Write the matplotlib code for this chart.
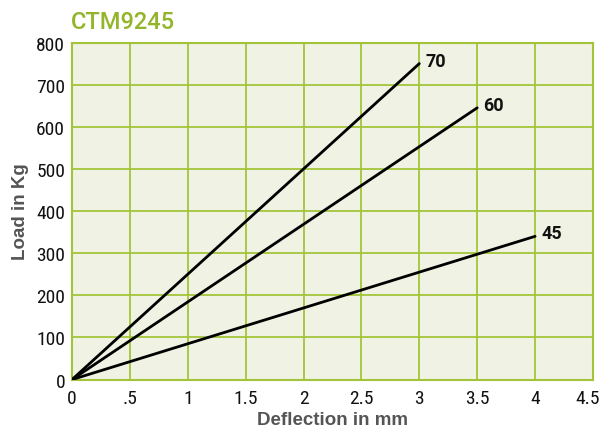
import matplotlib
matplotlib.use("Agg")
import matplotlib.pyplot as plt
from matplotlib import font_manager
from matplotlib.transforms import ScaledTranslation

fonts = font_manager.fontManager.ttflist
names = {f.name for f in fonts}
tick_kw = {"family": "Roboto", "size": 12.5}
for cand in ["Liberation Sans Narrow", "Roboto Condensed", "Open Sans Condensed", "DejaVu Sans Condensed"]:
    if cand in names:
        tick_kw = {"family": cand, "size": 14}
        break

# Data
series_labels = ["70", "60", "45"]
end_deflection = [3.0, 3.5, 4.0]
end_load = [750, 645, 340]
x_ticks = [0, 0.5, 1, 1.5, 2, 2.5, 3, 3.5, 4, 4.5]
x_tick_labels = ["0", ".5", "1", "1.5", "2", "2.5", "3", "3.5", "4", "4.5"]
y_ticks = [0, 100, 200, 300, 400, 500, 600, 700, 800]

green = "#a3c43a"
fig = plt.figure(figsize=(6.02, 4.31), dpi=100)
ax = fig.add_axes([0.1196, 0.117, 0.8654, 0.782])
ax.set_facecolor("#f0f2e3")

for lab, xe, ye in zip(series_labels, end_deflection, end_load):
    ax.plot([0, xe], [0, ye], color="black", lw=2.0, solid_capstyle="round", zorder=3)
    ax.annotate(lab, (xe, ye), xytext=(6, 3), textcoords="offset pixels",
                fontsize=13, fontweight="bold", family="Roboto",
                ha="left", va="center", color="#111111")

ax.set_xlim(0, 4.5)
ax.set_ylim(0, 800)
ax.set_xticks(x_ticks)
ax.set_xticklabels(x_tick_labels)
ax.set_yticks(y_ticks)
ax.tick_params(axis="x", length=0, pad=7)
ax.tick_params(axis="y", length=0, pad=5)
for lbl in ax.get_xticklabels() + ax.get_yticklabels():
    lbl.set_family(tick_kw["family"])
    lbl.set_fontsize(tick_kw["size"])
    lbl.set_color("#111111")
last = ax.xaxis.get_major_ticks()[-1].label1
last.set_transform(last.get_transform() + ScaledTranslation(-5 / 100, 0, fig.dpi_scale_trans))

ax.grid(True, color=green, lw=1.3)
ax.set_axisbelow(True)
for s in ax.spines.values():
    s.set_color(green)
    s.set_linewidth(1.5)

ax.set_xlabel("Deflection in mm", fontsize=13.5, fontweight="bold", color="#555555",
              family="Liberation Sans", labelpad=3)
ax.set_ylabel("Load in Kg", fontsize=13.5, fontweight="bold", color="#555555",
              family="Liberation Sans", labelpad=5)

fig.text(0.118, 0.948, "CTM9245", fontsize=17, fontweight="medium", color="#93b52a",
         family="Roboto", ha="left", va="center")

fig.savefig("out.png", dpi=100)
